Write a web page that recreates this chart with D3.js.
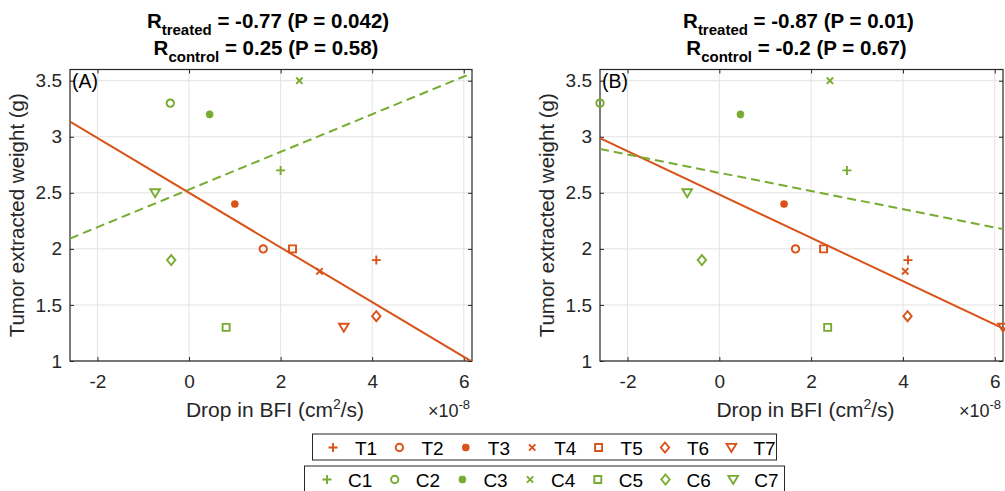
<!DOCTYPE html>
<html>
<head>
<meta charset="utf-8">
<script src="https://cdn.jsdelivr.net/npm/d3@7"></script>
<style>
  body { margin: 0; background: #fff; }
  svg { font-family: "Liberation Sans", Arial, Helvetica, sans-serif; }
</style>
</head>
<body>
<svg id="chart" width="1005" height="491"></svg>
<script>
(function() {
  'use strict';

  // ---- data ----
  var treatedNames = ['T1', 'T2', 'T3', 'T4', 'T5', 'T6', 'T7'];
  var controlNames = ['C1', 'C2', 'C3', 'C4', 'C5', 'C6', 'C7'];
  var markerKinds = ['plus', 'circle', 'star', 'cross', 'square', 'diamond', 'tridown'];

  var weightTreated = [1.9, 2.0, 2.4, 1.8, 2.0, 1.4, 1.3];
  var weightControl = [2.7, 3.3, 3.2, 3.5, 1.3, 1.9, 2.5];

  var dropA_treated = [4.09, 1.62, 1.00, 2.85, 2.26, 4.09, 3.38];
  var dropA_control = [2.00, -0.41, 0.45, 2.41, 0.81, -0.39, -0.74];
  var dropB_treated = [4.11, 1.66, 1.41, 4.05, 2.27, 4.10, 6.18];
  var dropB_control = [2.78, -2.60, 0.46, 2.41, 2.36, -0.38, -0.70];

  var xTicks = [-2, 0, 2, 4, 6];
  var yTicks = [1, 1.5, 2, 2.5, 3, 3.5];
  var xDomain = [-2.6, 6.18];
  var yDomain = [1, 3.6];

  var titlesA = ['-0.77 (P = 0.042)', '0.25 (P = 0.58)'];
  var titlesB = ['-0.87 (P = 0.01)', '-0.2 (P = 0.67)'];

  var treatedColor = '#D95319',
    controlColor = '#77AC30',
    axisColor = '#262626',
    gridColor = '#e3e3e3';

  var svg = d3.select('#chart');

  function markerPath(kind) {
    var p = d3.path();
    if (kind === 'plus') {
      p.moveTo(-4.5, 0); p.lineTo(4.5, 0); p.moveTo(0, -4.5); p.lineTo(0, 4.5);
    } else if (kind === 'circle') {
      p.moveTo(3.7, 0); p.arc(0, 0, 3.7, 0, 2 * Math.PI);
    } else if (kind === 'star') {
      p.moveTo(-3.8, 0); p.lineTo(3.8, 0); p.moveTo(0, -3.8); p.lineTo(0, 3.8);
      p.moveTo(-2.8, -2.8); p.lineTo(2.8, 2.8); p.moveTo(-2.8, 2.8); p.lineTo(2.8, -2.8);
    } else if (kind === 'cross') {
      p.moveTo(-3.2, -3.2); p.lineTo(3.2, 3.2); p.moveTo(-3.2, 3.2); p.lineTo(3.2, -3.2);
    } else if (kind === 'square') {
      p.rect(-3.5, -3.5, 7, 7);
    } else if (kind === 'diamond') {
      p.moveTo(0, -5); p.lineTo(4.2, 0); p.lineTo(0, 5); p.lineTo(-4.2, 0); p.closePath();
    } else {
      p.moveTo(-4.8, -3.6); p.lineTo(4.8, -3.6); p.lineTo(0, 4.4); p.closePath();
    }
    return p.toString();
  }

  function fitLine(xs, ys) {
    var mx = d3.mean(xs), my = d3.mean(ys);
    var sxy = d3.sum(xs, function(d, i) { return (d - mx) * (ys[i] - my); });
    var sxx = d3.sum(xs, function(d) { return (d - mx) * (d - mx); });
    var slope = sxy / sxx;
    return function(x) { return my + slope * (x - mx); };
  }

  // MATLAB style labels: plain hyphen for negatives
  function tickLabel(d) { return String(d); }

  function drawPanel(left, right, tag, xsT, xsC, titles, id) {
    var top = 69.5, bottom = 361;
    var x = d3.scaleLinear().domain(xDomain).range([left, right]);
    var y = d3.scaleLinear().domain(yDomain).range([bottom, top]);
    var cx = (left + right) / 2;
    var g = svg.append('g');

    g.append('defs').append('clipPath').attr('id', 'clip' + id)
      .append('rect')
      .attr('x', left).attr('y', top)
      .attr('width', right - left).attr('height', bottom - top);

    // grid
    g.selectAll('line.gx').data(xTicks).enter().append('line')
      .attr('x1', function(d) { return x(d); }).attr('x2', function(d) { return x(d); })
      .attr('y1', top).attr('y2', bottom)
      .attr('stroke', gridColor).attr('stroke-width', 1);
    g.selectAll('line.gy').data(yTicks).enter().append('line')
      .attr('y1', function(d) { return y(d); }).attr('y2', function(d) { return y(d); })
      .attr('x1', left).attr('x2', right)
      .attr('stroke', gridColor).attr('stroke-width', 1);

    // axes, ticks inside on all four sides
    var tl = 4;
    g.append('g').attr('transform', 'translate(0,' + bottom + ')')
      .call(d3.axisBottom(x).tickValues(xTicks).tickSizeInner(-tl).tickSizeOuter(0).tickPadding(14)
        .tickFormat(tickLabel));
    g.append('g').attr('transform', 'translate(0,' + top + ')')
      .call(d3.axisTop(x).tickValues(xTicks).tickSizeInner(-tl).tickSizeOuter(0).tickFormat(''));
    g.append('g').attr('transform', 'translate(' + left + ',0)')
      .call(d3.axisLeft(y).tickValues(yTicks).tickSizeInner(-tl).tickSizeOuter(0).tickPadding(8)
        .tickFormat(tickLabel));
    g.append('g').attr('transform', 'translate(' + right + ',0)')
      .call(d3.axisRight(y).tickValues(yTicks).tickSizeInner(-tl).tickSizeOuter(0).tickFormat(''));
    g.selectAll('.domain').remove();
    g.selectAll('.tick line').attr('stroke', axisColor);
    g.selectAll('.tick text').attr('fill', axisColor).style('font-size', '19px');
    g.append('rect')
      .attr('x', left).attr('y', top)
      .attr('width', right - left).attr('height', bottom - top)
      .attr('fill', 'none').attr('stroke', axisColor).attr('stroke-width', 1.2);

    // fit lines
    var plot = g.append('g').attr('clip-path', 'url(#clip' + id + ')');
    var fT = fitLine(xsT, weightTreated), fC = fitLine(xsC, weightControl);
    plot.append('line')
      .attr('x1', x(xDomain[0])).attr('y1', y(fT(xDomain[0])))
      .attr('x2', x(xDomain[1])).attr('y2', y(fT(xDomain[1])))
      .attr('stroke', treatedColor).attr('stroke-width', 2);
    plot.append('line')
      .attr('x1', x(xDomain[0])).attr('y1', y(fC(xDomain[0])))
      .attr('x2', x(xDomain[1])).attr('y2', y(fC(xDomain[1])))
      .attr('stroke', controlColor).attr('stroke-width', 2)
      .attr('stroke-dasharray', '9,5');

    // markers
    function markers(xs, ys, color) {
      g.selectAll(null).data(xs).enter().append('path')
        .attr('transform', function(d, i) { return 'translate(' + x(d) + ',' + y(ys[i]) + ')'; })
        .attr('d', function(d, i) { return markerPath(markerKinds[i]); })
        .attr('fill', 'none').attr('stroke', color)
        .attr('stroke-width', function(d, i) { return markerKinds[i] === 'star' ? 2.4 : 1.9; });
    }
    markers(xsC, weightControl, controlColor);
    markers(xsT, weightTreated, treatedColor);

    // panel tag
    g.append('text').attr('x', left + 2).attr('y', 88)
      .style('font-size', '19.5px').attr('fill', '#000').text(tag);

    // titles
    var labels = ['treated', 'control'];
    titles.forEach(function(t, i) {
      var tx = g.append('text')
        .attr('x', cx - 3 - i * 2).attr('y', 28 + i * 27)
        .attr('text-anchor', 'middle')
        .style('font-size', '20.5px').style('font-weight', 'bold').attr('fill', '#000');
      tx.append('tspan').text('R');
      tx.append('tspan').attr('dy', 7).style('font-size', '15px').text(labels[i]);
      tx.append('tspan').attr('dy', -7).text(' = ' + t);
    });

    // axis labels
    g.append('text')
      .attr('transform', 'translate(' + (left - 46) + ',' + ((top + bottom) / 2) + ') rotate(-90)')
      .attr('text-anchor', 'middle')
      .style('font-size', '20.5px').attr('fill', axisColor)
      .text('Tumor extracted weight (g)');
    var xl = g.append('text')
      .attr('x', cx + 4).attr('y', 417)
      .attr('text-anchor', 'middle')
      .style('font-size', '21px').attr('fill', axisColor);
    xl.append('tspan').text('Drop in BFI (cm');
    xl.append('tspan').attr('dy', -8).style('font-size', '14px').text('2');
    xl.append('tspan').attr('dy', 8).text('/s)');
    var ex = g.append('text')
      .attr('x', right - 2).attr('y', 417)
      .attr('text-anchor', 'end')
      .style('font-size', '18px').attr('fill', axisColor);
    ex.append('tspan').text('\u00d710');
    ex.append('tspan').attr('dy', -8).style('font-size', '13px').text('-8');
  }

  drawPanel(70, 472, '(A)', dropA_treated, dropA_control, titlesA, 'A');
  drawPanel(600, 1003, '(B)', dropB_treated, dropB_control, titlesB, 'B');

  // legends
  function legendRow(names, color, boxX, boxY, boxW, boxH, firstX, step, textOff) {
    var lg = svg.append('g');
    lg.append('rect')
      .attr('x', boxX).attr('y', boxY).attr('width', boxW).attr('height', boxH)
      .attr('fill', '#fff').attr('stroke', axisColor).attr('stroke-width', 1);
    var cy = boxY + 13.5;
    var item = lg.selectAll('g').data(names).enter().append('g')
      .attr('transform', function(d, i) { return 'translate(' + (firstX + i * step) + ',' + cy + ')'; });
    item.append('path')
      .attr('d', function(d, i) { return markerPath(markerKinds[i]); })
      .attr('fill', 'none').attr('stroke', color)
      .attr('stroke-width', function(d, i) { return markerKinds[i] === 'star' ? 2.4 : 1.9; });
    item.append('text')
      .attr('x', textOff).attr('y', 7)
      .style('font-size', '19px').attr('fill', '#000')
      .text(function(d) { return d; });
  }
  legendRow(treatedNames, treatedColor, 312.5, 434, 464, 26, 333, 66.4, 22);
  legendRow(controlNames, controlColor, 304.5, 466, 480, 30, 327, 67.7, 21);
})();
</script>
</body>
</html>
